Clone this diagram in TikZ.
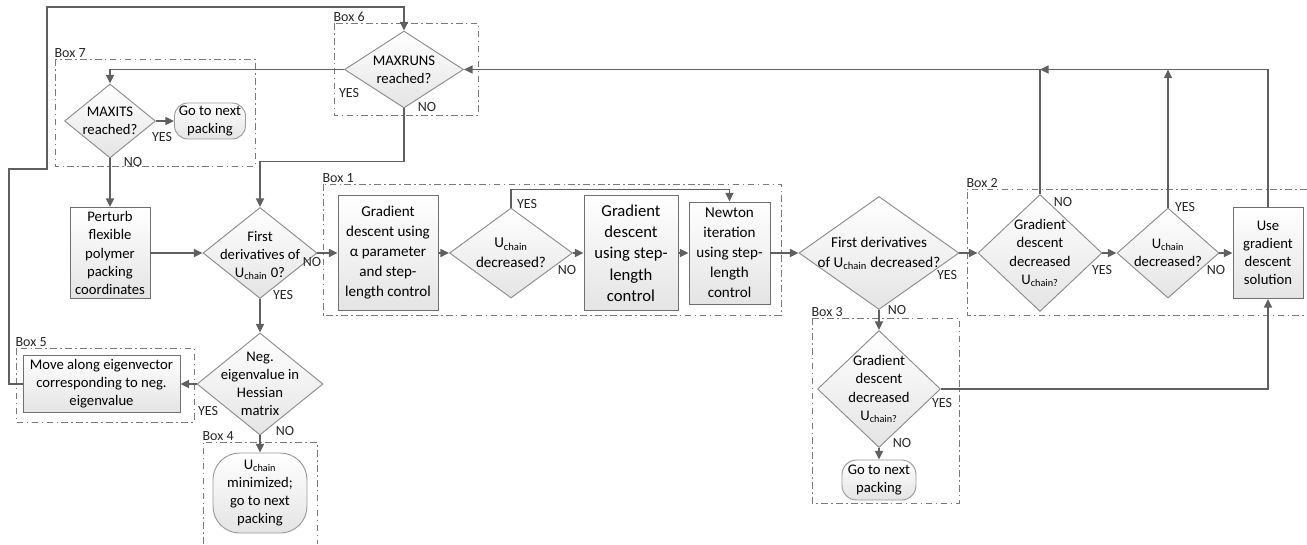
\documentclass[tikz,border=0pt]{standalone}
\usepackage{fontspec}
\setmainfont{Carlito}
\usetikzlibrary{shapes.geometric,arrows.meta}
\definecolor{ln}{HTML}{606060}
\definecolor{rectc}{HTML}{707070}
\definecolor{diac}{HTML}{8C8C8C}
\definecolor{termc}{HTML}{9A9A9A}
\definecolor{grpc}{HTML}{7A7A7A}
\definecolor{fillb}{HTML}{E4E4E4}
\newcommand{\Uc}{U\textsubscript{chain}}
\tikzset{
  shp/.style 2 args={minimum width=#1*0.75pt, minimum height=#2*0.75pt, inner sep=0pt,
    top color=white, bottom color=fillb, line width=0.7pt},
  rbox/.style 2 args={rectangle, shp={#1}{#2}, draw=rectc, align=center},
  dia/.style 2 args={diamond, shp={#1}{#2}, draw=diac},
  term/.style n args={3}{rectangle, rounded corners=#3, shp={#1}{#2}, draw=termc, align=center},
  txt/.style={align=center, inner sep=0pt},
  f11/.style={font=\fontsize{11.3}{15}\selectfont},
  f10/.style={font=\fontsize{11}{13.6}\selectfont},
  lab/.style={font=\fontsize{10.5}{12}\selectfont, inner sep=0pt, text=black!85},
  boxl/.style={anchor=south west, inner sep=1pt, font=\fontsize{10.5}{12}\selectfont, text=black!85},
  grp/.style={draw=grpc, line width=0.75pt, dash pattern=on 5pt off 2.5pt on 1.2pt off 2.5pt},
  arr/.style={draw=ln, line width=1.1pt, -{Triangle[length=6.5pt,width=6pt]}},
  ln/.style={draw=ln, line width=1.1pt}
}
\begin{document}
\begin{tikzpicture}[x=0.75pt,y=-0.75pt]
\useasboundingbox (0,0) rectangle (1307,544);

% group boxes
\draw[grp] (55,59) rectangle (255,166);
\node[boxl] (b7) at (53,59) {Box 7};
\draw[grp] (334,23) rectangle (478,115);
\node[boxl] (b6) at (332,23) {Box 6};
\draw[grp] (323,184) rectangle (781,315);
\node[boxl] (b1) at (321,184) {Box 1};
\draw[grp] (1307,189) -- (967,189) -- (967,315) -- (1307,315);
\node[boxl] (b2) at (965,189) {Box 2};
\draw[grp] (812,318) rectangle (959,503);
\node[boxl] (b3) at (810,318) {Box 3};
\draw[grp] (203,544) -- (203,442) -- (317,442) -- (317,544);
\node[boxl] (b4) at (201,442) {Box 4};
\draw[grp] (16,348) rectangle (194,422);
\node[boxl] (b5) at (14,348) {Box 5};

% shapes
\node[dia={91}{74}] (mi) at (110,121) {};
\node[txt,f10] (mit) at (mi) {MAXITS\\reached?};
\node[term={71}{36}{10pt},f10] (go1) at (210,121) {Go to next\\packing};
\node[dia={119}{77}] (mr) at (404,69.5) {};
\node[txt,f10] (mrt) at (mr) {MAXRUNS\\reached?};
\node[rbox={80}{91},font=\fontsize{11}{13.7}\selectfont] (pert) at (110,253) {Perturb\\flexible\\polymer\\packing\\coordinates};
\node[dia={114}{91}] (fd1) at (260,253) {};
\node[txt,f10] (fd1t) at ([yshift=-2pt]fd1) {First\\derivatives of\\\Uc{} 0?};
\node[rbox={100}{115},f11] (gd1) at (388,253) {Gradient\\descent using\\α parameter\\and step-\\length control};
\node[dia={123}{90}] (ud1) at (511,253) {};
\node[txt,f11] (ud1t) at (ud1) {\Uc\\decreased?};
\node[rbox={94}{115},font=\fontsize{12.5}{16}\selectfont] (gd2) at (631,253) {Gradient\\descent\\using step-\\length\\control};
\node[rbox={81}{102},f11] (newt) at (729.5,253) {Newton\\iteration\\using step-\\length\\control};
\node[dia={160}{113}] (fd2) at (879,253) {};
\node[txt,f11] (fd2t) at (fd2) {First derivatives\\of \Uc{} decreased?};
\node[dia={124}{117}] (gdd2) at (1040,253) {};
\node[txt,f10] (gdd2t) at (gdd2) {Gradient\\descent\\decreased\\U\textsubscript{chain?}};
\node[dia={102}{90}] (ud2) at (1168,253) {};
\node[txt,f10] (ud2t) at (ud2) {\Uc\\decreased?};
\node[rbox={70}{91},f10] (use) at (1268,253) {Use\\gradient\\descent\\solution};
\node[dia={123}{117}] (gdd3) at (879,389) {};
\node[txt,f10] (gdd3t) at (gdd3) {Gradient\\descent\\decreased\\U\textsubscript{chain?}};
\node[term={74}{40}{11pt},f10] (go3) at (879,480) {Go to next\\packing};
\node[dia={126}{102}] (neg) at (260,384) {};
\node[txt,f10] (negt) at (neg) {Neg.\\eigenvalue in\\Hessian\\matrix};
\node[term={94}{80}{20pt},f10] (umin) at (260,493) {\Uc\\minimized;\\go to next\\packing};
\node[rbox={157}{57},f10] (move) at (101.5,384) {Move along eigenvector\\corresponding to neg.\\eigenvalue};

% connectors
\draw[arr] (move.west) -- (9,384) -- (9,169) -- (47,169) -- (47,7) -- (mr.north |- 0,7) -- (mr.north);
\draw[arr] (mr.west) -| (mi.north);
\draw[arr] (mr.south) -- ++(0,53) -| (fd1.north);
\draw[arr] (mi.east) -- (go1.west);
\draw[arr] (mi.south) -- (pert.north);
\draw[arr] (pert.east) -- (fd1.west);
\draw[arr] (fd1.east) -- (gd1.west);
\draw[arr] (fd1.south) -- (neg.north);
\draw[arr] (neg.west) -- (move.east);
\draw[arr] (neg.south) -- (umin.north);
\draw[arr] (gd1.east) -- (ud1.west);
\draw[arr] (ud1.north) -- ++(0,-18) -| (newt.north);
\draw[arr] (ud1.east) -- (gd2.west);
\draw[arr] (gd2.east) -- (newt.west);
\draw[arr] (newt.east) -- (fd2.west);
\draw[arr] (fd2.east) -- (gdd2.west);
\draw[arr] (fd2.south) -- (gdd3.north);
\draw[arr] (gdd2.east) -- (ud2.west);
\draw[arr] (ud2.east) -- (use.west);
\draw[arr] (gdd3.south) -- (go3.north);
\draw[arr] (gdd3.east) -| (use.south);
\draw[arr] (use.north) |- (gdd2.north |- mr.east);
\draw[arr] (gdd2.north) |- (mr.east);
\draw[arr] (ud2.north) -- (ud2.north |- mr.east);

% YES / NO labels
\node[lab] (l1) at (162,137) {YES};
\node[lab] (l2) at (133,162) {NO};
\node[lab] (l3) at (349,93) {YES};
\node[lab] (l4) at (427,107) {NO};
\node[lab] (l5) at (312,262) {NO};
\node[lab] (l6) at (283,295) {YES};
\node[lab] (l7) at (527,204) {YES};
\node[lab] (l8) at (567,270) {NO};
\node[lab] (l9) at (947,275) {YES};
\node[lab] (l10) at (897,310) {NO};
\node[lab] (l11) at (1063,202) {NO};
\node[lab] (l12) at (1102,270) {YES};
\node[lab] (l13) at (1185,207) {YES};
\node[lab] (l14) at (1216,270) {NO};
\node[lab] (l15) at (942,403) {YES};
\node[lab] (l16) at (902,443) {NO};
\node[lab] (l17) at (208,411) {YES};
\node[lab] (l18) at (285,431) {NO};
\end{tikzpicture}
\end{document}
